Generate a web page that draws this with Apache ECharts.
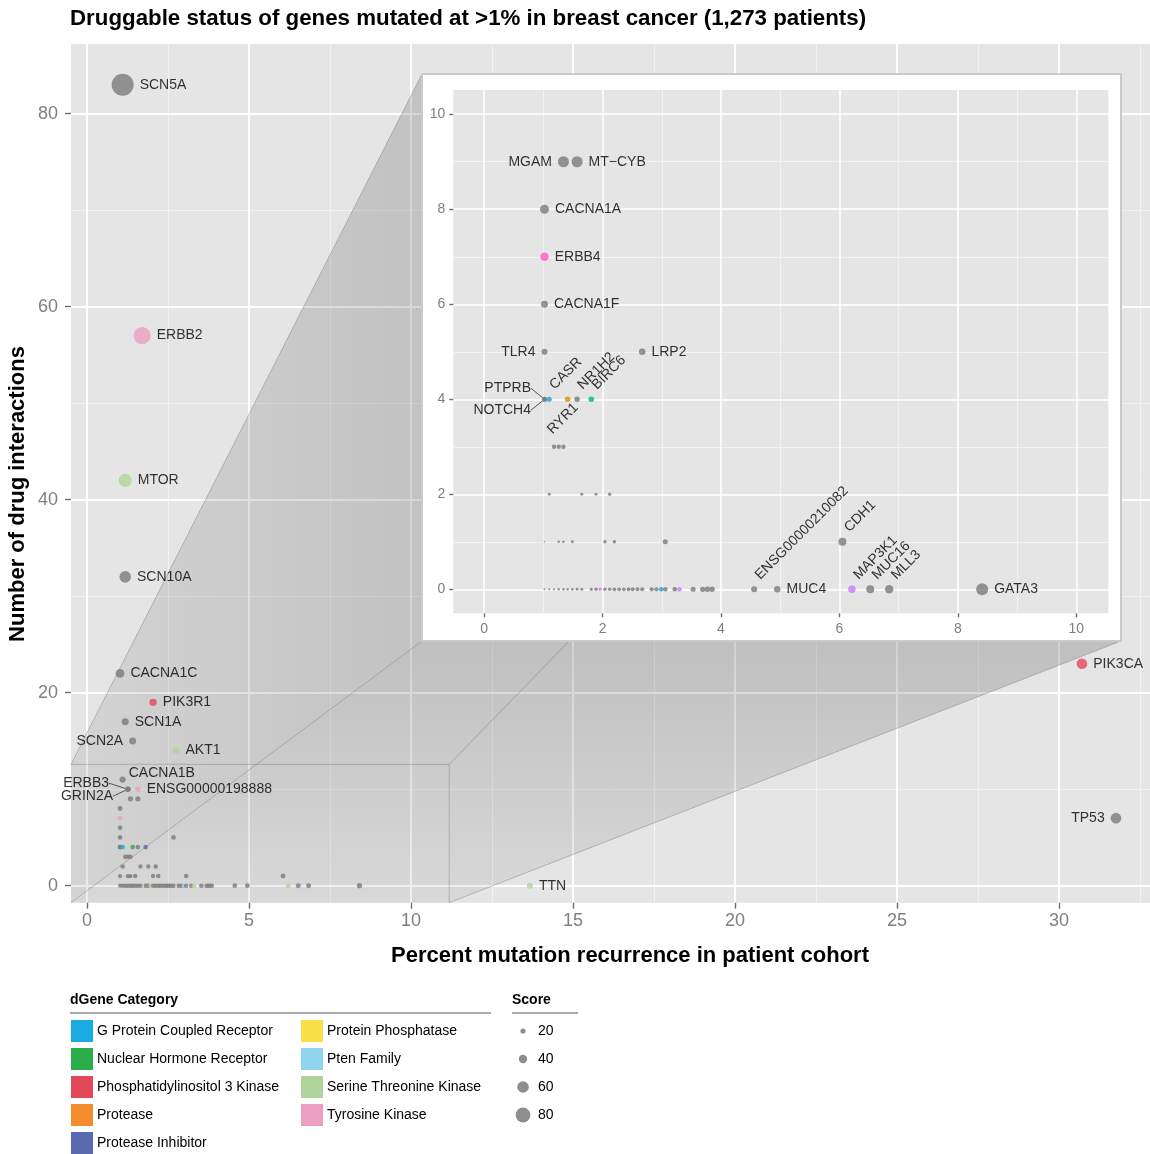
<!DOCTYPE html>
<html>
<head>
<meta charset="utf-8">
<script src="https://cdn.jsdelivr.net/npm/echarts@6.0.0/dist/echarts.min.js"></script>
<style>
html,body{margin:0;padding:0;background:#ffffff;}
#chart{width:1150px;height:1154px;}
</style>
</head>
<body>
<div id="chart"></div>
<script>
// ---------------- DATA ----------------
const genes = [
  'SCN5A','ERBB2','MTOR','SCN10A','CACNA1C','PIK3R1','SCN1A','SCN2A','AKT1','CACNA1B','ERBB3','GRIN2A','ENSG00000198888','PIK3CA','TP53','TTN',
  'MGAM','MT\u2212CYB','CACNA1A','ERBB4','CACNA1F','TLR4','LRP2','PTPRB','NOTCH4','CASR','RYR1','NR1H2','BIRC6',
  '','','',
  '','','','',
  '','','','','','','','CDH1',
  '','','','','','','','','','','','','','','','','','','','','','','','','','','','','','','',
  'ENSG00000210082','MUC4','MAP3K1','MUC16','MLL3','GATA3'
];
const pct = [
  1.10,1.70,1.18,1.18,1.02,2.04,1.18,1.41,2.75,1.10,1.26,1.26,1.57,30.71,31.76,13.67,
  1.34,1.57,1.02,1.02,1.02,1.02,2.67,1.02,1.02,1.10,1.41,1.57,1.81,
  1.18,1.26,1.34,
  1.10,1.65,1.89,2.12,
  1.02,1.26,1.34,1.49,2.04,2.20,3.06,6.05,
  1.02,1.10,1.18,1.26,1.34,1.41,1.49,1.57,1.65,1.81,1.89,1.96,2.04,2.12,2.20,2.28,2.36,2.44,2.51,2.59,2.67,2.83,2.91,2.99,3.06,3.22,3.30,3.53,3.69,3.77,3.85,
  4.56,4.95,6.21,6.52,6.84,8.41
];
const drugs = [
  83,57,42,32,22,19,17,15,14,11,10,10,10,23,7,0,
  9,9,8,7,6,5,5,4,4,4,4,4,4,
  3,3,3,
  2,2,2,2,
  1,1,1,1,1,1,1,1,
  0,0,0,0,0,0,0,0,0,0,0,0,0,0,0,0,0,0,0,0,0,0,0,0,0,0,0,0,0,0,0,
  0,0,0,0,0,0
];
const score = [
  125,95,69,60,42,34,31,31,30,26,22,22,22,54,54,25,
  20.0,20.0,18.7,18.4,17.5,16.9,17.2,16.3,16.3,16.3,16.6,16.6,16.6,
  15.9,15.9,15.9,
  15.0,15.0,15.0,15.3,
  14.1,14.7,14.7,15.0,15.3,15.3,16.3,18.1,
  14.4,14.5,14.6,14.7,14.8,14.8,14.9,15.0,15.1,15.2,15.3,15.3,15.4,15.4,15.5,15.5,15.5,15.6,15.6,15.6,15.7,15.8,15.8,15.9,16.0,16.0,16.1,16.3,16.4,16.5,16.5,
  16.9,17.2,17.8,18.1,18.4,20.6
];
const category = [
  '','TK','STK','','','PI3K','','','STK','','','','TK','PI3K','','STK',
  '','','','TK','','','','','','GPCR','NHR','','PINH',
  '','','',
  '','','','',
  '','','','','','','','',
  '','','','','','','','','','','','STK','','','','','','','','','','','','PTEN','','','STK','','','','',
  '','','STK','','',''
];
const legendCats = ['GPCR','NHR','PI3K','PROT','PINH','PPH','PTEN','STK','TK'];
const catNames = {
  GPCR:'G Protein Coupled Receptor', NHR:'Nuclear Hormone Receptor', PI3K:'Phosphatidylinositol 3 Kinase',
  PROT:'Protease', PINH:'Protease Inhibitor', PPH:'Protein Phosphatase', PTEN:'Pten Family',
  STK:'Serine Threonine Kinase', TK:'Tyrosine Kinase'
};
const scoreBreaks = [20,40,60,80];
const mainXTicks = [0,5,10,15,20,25,30];
const mainYTicks = [0,20,40,60,80];
const insetXTicks = [0,2,4,6,8,10];
const insetYTicks = [0,2,4,6,8,10];
const titleText = 'Druggable status of genes mutated at >1% in breast cancer (1,273 patients)';
const xTitle = 'Percent mutation recurrence in patient cohort';
const yTitle = 'Number of drug interactions';

// ---------------- STYLE / LAYOUT ----------------
const FONT = '"Liberation Sans", Arial, Helvetica, sans-serif';
const MAIN = {left:71, top:44, right:1150, bottom:902.7};
const INSET_BOX = {left:422, top:74, right:1121, bottom:641};
const INSET = {left:453.3, top:90, right:1108.3, bottom:613.3};
const mainRange = {x:[-0.494, 32.81], y:[-1.76, 87.22]};
const insetRange = {x:[-0.52, 10.54], y:[-0.505, 10.51]};
const zoomWindow = {x:[-0.494, 11.18], y:[-1.76, 12.58]};

const mainPalette = {
  GPCR:'#1AABE3', NHR:'#2AAE4A', PI3K:'#E3485A', PROT:'#F58D30', PINH:'#5B69B0',
  PPH:'#F7E146', PTEN:'#8FD3EC', STK:'#AFD49B', TK:'#EC9FC0', '':'#7A7A7A'
};
const insetPalette = {
  GPCR:'#18A0EE', NHR:'#D39200', PI3K:'#E3485A', PROT:'#F58D30', PINH:'#00BF66',
  PPH:'#F7E146', PTEN:'#18A0EE', STK:'#C77CFF', TK:'#FF5BC6', '':'#7A7A7A'
};
const mainLabelStyle = {
  SCN5A:'right', ERBB2:'right', MTOR:'right', SCN10A:'right', CACNA1C:'right', PIK3R1:'right',
  SCN1A:'right', SCN2A:'left', AKT1:'right', CACNA1B:'above', ERBB3:'leader', GRIN2A:'leader',
  ENSG00000198888:'right', PIK3CA:'right', TP53:'left', TTN:'right'
};
const insetLabelStyle = {
  MGAM:'left', 'MT\u2212CYB':'right', CACNA1A:'right', ERBB4:'right', CACNA1F:'right', TLR4:'left', LRP2:'right',
  PTPRB:'leader', NOTCH4:'leader', CASR:'rot', RYR1:'rotDown', NR1H2:'rot', BIRC6:'rot',
  CDH1:'rot', ENSG00000210082:'rot', MAP3K1:'rot', MUC16:'rot', MLL3:'rot', MUC4:'right', GATA3:'right'
};
// label nudges in pixels (style)
const leaderOffsets = {ERBB3:[-11,-6], GRIN2A:[-7,7], PTPRB:[-6,-11], NOTCH4:[-6,11]};
const kindNudge = {above:[-3,-6], rot:[8,-2], rotDown:[5,0]};

function mainSize(s){ return 2 + 0.16*s; }
function insetSize(s){ return Math.max(1.4, 2 + 1.61*(s-14.4)); }

function labelFor(kind){
  switch(kind){
    case 'right': return {show:true, position:'right', distance:6};
    case 'left': return {show:true, position:'left', distance:6};
    case 'above': return {show:true, position:'right', distance:6};
    case 'leader': return {show:true, position:'left', distance:5};
    case 'rot': return {show:true, position:'right', distance:1, rotate:45, align:'left', verticalAlign:'bottom'};
    case 'rotDown': return {show:true, position:'bottom', distance:2, rotate:45, align:'right', verticalAlign:'top'};
  }
  return null;
}

function buildData(idxs, palette, sizeFn, labelMap){
  return idxs.map(i => {
    const g = genes[i];
    const item = {
      name: g,
      value: [pct[i], drugs[i]],
      symbolSize: sizeFn(score[i]),
      itemStyle: {color: palette[category[i]]}
    };
    const kind = labelMap[g];
    if (g && kind) {
      item.label = labelFor(kind);
      if (kind === 'leader') item.labelLine = {show:true};
    }
    return item;
  });
}

const allIdx = genes.map((_, i) => i);
const insetIdx = allIdx.filter(i => drugs[i] < 10 && pct[i] <= insetRange.x[1]);
const mainData = buildData(allIdx, mainPalette, mainSize, mainLabelStyle);
const insetData = buildData(insetIdx, insetPalette, insetSize, insetLabelStyle);

function midpoints(t){ const r=[]; const step = t[1]-t[0]; for(let i=0;i<t.length;i++){ r.push(t[i]+step/2);} return r; }

function makeAxis(grid, range, values, major, small, z, margin){
  return {
    type:'value', gridIndex:grid, min:range[0], max:range[1], z:z,
    axisLine:{show:false, onZero:false},
    axisTick:{show:major, customValues:values, length: small?4:6, lineStyle:{color:'#6E6E6E', width:1.4}},
    axisLabel:{show:major, customValues:values, color:'#7F7F7F', fontSize: small?14:18, fontFamily:FONT, margin:margin},
    splitLine:{show:true, lineStyle:{color: major?'#FFFFFF':'#F2F2F2', width: major?(small?1.6:2):1}},
    minorTick:{show:false}, minorSplitLine:{show:false}
  };
}

function labelLayoutFor(data, labelMap){
  return function(p){
    const g = data[p.dataIndex] && data[p.dataIndex].name;
    const o = leaderOffsets[g] || kindNudge[labelMap[g]];
    if (o) return {dx:o[0], dy:o[1]};
    return {};
  };
}

const chart = echarts.init(document.getElementById('chart'), null, {renderer:'canvas'});
const option = {
  animation:false,
  backgroundColor:'#ffffff',
  textStyle:{fontFamily:FONT},
  grid:[
    {left:MAIN.left, top:MAIN.top, width:MAIN.right-MAIN.left, height:MAIN.bottom-MAIN.top, show:false, containLabel:false, outerBoundsMode:'none'},
    {left:INSET.left, top:INSET.top, width:INSET.right-INSET.left, height:INSET.bottom-INSET.top, show:false, containLabel:false, outerBoundsMode:'none'}
  ],
  xAxis:[
    makeAxis(0, mainRange.x, mainXTicks, true, false, 2, 9),
    makeAxis(0, mainRange.x, midpoints(mainXTicks), false, false, 1, 9),
    makeAxis(1, insetRange.x, insetXTicks, true, true, 8, 9),
    makeAxis(1, insetRange.x, midpoints(insetXTicks), false, true, 7, 9)
  ],
  yAxis:[
    makeAxis(0, mainRange.y, mainYTicks, true, false, 2, 13),
    makeAxis(0, mainRange.y, midpoints(mainYTicks), false, false, 1, 13),
    makeAxis(1, insetRange.y, insetYTicks, true, true, 8, 8),
    makeAxis(1, insetRange.y, midpoints(insetYTicks), false, true, 7, 8)
  ],
  series:[
    {
      type:'scatter', name:'main', xAxisIndex:0, yAxisIndex:0, z:4, symbol:'circle', silent:true,
      data: mainData,
      label:{show:false, formatter:'{b}', color:'#000', fontSize:14, fontFamily:FONT},
      labelLine:{show:false, lineStyle:{color:'#555', width:1}},
      labelLayout: labelLayoutFor(mainData, mainLabelStyle),
      emphasis:{disabled:true}
    },
    {
      type:'scatter', name:'inset', xAxisIndex:2, yAxisIndex:2, z:9, symbol:'circle', silent:true,
      data: insetData,
      label:{show:false, formatter:'{b}', color:'#000', fontSize:14, fontFamily:FONT},
      labelLine:{show:false, lineStyle:{color:'#555', width:1}},
      labelLayout: labelLayoutFor(insetData, insetLabelStyle),
      emphasis:{disabled:true}
    }
  ]
};
chart.setOption(option);

// ---------------- decorations (zoom frustum, boxes, titles, legend) ----------------
const P = (x,y) => chart.convertToPixel({xAxisIndex:0, yAxisIndex:0}, [x,y]);
const A = P(zoomWindow.x[0], zoomWindow.y[1]);
const F = P(zoomWindow.x[1], zoomWindow.y[1]);
const D = P(zoomWindow.x[0], zoomWindow.y[0]);
const H = P(zoomWindow.x[1], zoomWindow.y[0]);
const B = [INSET_BOX.left, INSET_BOX.top], E = [INSET_BOX.right, INSET_BOX.top];
const C = [INSET_BOX.left, INSET_BOX.bottom], G = [INSET_BOX.right, INSET_BOX.bottom];

const edge = (p, q) => ({type:'polyline', z:3, silent:true, shape:{points:[p,q]}, style:{stroke:'rgba(120,120,120,0.42)', lineWidth:1, fill:null}});

const g = [];
g.push({type:'rect', z:0, silent:true, shape:{x:MAIN.left, y:MAIN.top, width:MAIN.right-MAIN.left, height:MAIN.bottom-MAIN.top}, style:{fill:'#E5E5E5'}});
g.push({type:'polygon', z:3, silent:true, shape:{points:[A,B,C,D]}, style:{fill:{type:'linear', x:A[0], y:0, x2:B[0], y2:0, global:true,
  colorStops:[{offset:0, color:'rgba(70,70,80,0.11)'},{offset:1, color:'rgba(70,70,70,0.22)'}]}}});
g.push({type:'polygon', z:3, silent:true, shape:{points:[D,C,G,H]}, style:{fill:{type:'linear', x:0, y:C[1], x2:0, y2:H[1], global:true,
  colorStops:[{offset:0, color:'rgba(70,70,70,0.24)'},{offset:1, color:'rgba(70,70,70,0.08)'}]}}});
g.push(edge(A,B), edge(D,C), edge(H,G), edge(F,E), edge(A,F), edge(F,H));
g.push({type:'rect', z:5, silent:true, shape:{x:INSET_BOX.left, y:INSET_BOX.top, width:INSET_BOX.right-INSET_BOX.left, height:INSET_BOX.bottom-INSET_BOX.top}, style:{fill:'#FFFFFF', stroke:'#CACACA', lineWidth:2}});
g.push({type:'rect', z:6, silent:true, shape:{x:INSET.left, y:INSET.top, width:INSET.right-INSET.left, height:INSET.bottom-INSET.top}, style:{fill:'#E5E5E5'}});

const txt = (x, y, text, size, weight, align, extra) => Object.assign({type:'text', z:10, silent:true, x:x, y:y,
  style:{text:text, fill:'#000', fontSize:size, fontWeight:weight, fontFamily:FONT, align:align, verticalAlign:'middle'}}, extra||{});
g.push(txt(70, 19, titleText, 22.3, 'bold', 'left'));
g.push(txt(630, 956, xTitle, 22, 'bold', 'center'));
g.push(txt(18, 494, yTitle, 22, 'bold', 'center', {rotation:Math.PI/2}));

// legend: categories
g.push(txt(70, 1000, 'dGene Category', 14, 'bold', 'left'));
g.push({type:'line', z:10, silent:true, shape:{x1:70, y1:1013, x2:491, y2:1013}, style:{stroke:'#ABABAB', lineWidth:2}});
legendCats.forEach((c, k) => {
  const col = k < 5 ? 0 : 1, row = k < 5 ? k : k-5;
  const x = col === 0 ? 71 : 301, y = 1031 + row*28;
  g.push({type:'rect', z:10, silent:true, shape:{x:x, y:y-11, width:22, height:22}, style:{fill:mainPalette[c]}});
  g.push(txt(x+26, y, catNames[c], 14, 'normal', 'left'));
});
// legend: score
g.push(txt(512, 1000, 'Score', 14, 'bold', 'left'));
g.push({type:'line', z:10, silent:true, shape:{x1:512, y1:1013, x2:578, y2:1013}, style:{stroke:'#ABABAB', lineWidth:2}});
scoreBreaks.forEach((s, k) => {
  const y = 1031 + k*28;
  g.push({type:'circle', z:10, silent:true, shape:{cx:523, cy:y, r:mainSize(s)/2}, style:{fill:'#8E8E8E'}});
  g.push(txt(538, y, String(s), 14, 'normal', 'left'));
});

chart.setOption({graphic:{elements:g}});
</script>
</body>
</html>
